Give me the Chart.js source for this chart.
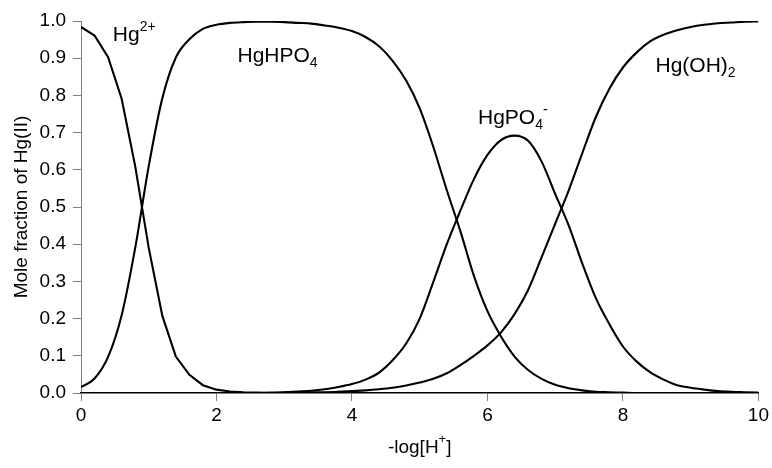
<!DOCTYPE html>
<html>
<head>
<meta charset="utf-8">
<script src="https://cdn.jsdelivr.net/npm/chart.js@4"></script>
<style>
  html, body { margin: 0; padding: 0; background: #fff; }
  canvas { display: block; }
</style>
</head>
<body>
<canvas id="speciation" width="772" height="468"></canvas>
<script>
// -log[H+] values
const pH = [0, 0.2, 0.4, 0.6, 0.8, 1.0, 1.2, 1.4, 1.6, 1.8,
  2.0, 2.2, 2.4, 2.6, 2.8, 3.0, 3.2, 3.4, 3.6, 3.8,
  4.0, 4.2, 4.4, 4.6, 4.8, 5.0, 5.2, 5.4, 5.6, 5.8,
  6.0, 6.2, 6.4, 6.6, 6.8, 7.0, 7.2, 7.4, 7.6, 7.8,
  8.0, 8.2, 8.4, 8.6, 8.8, 9.0, 9.2, 9.4, 9.6, 9.8, 10.0];

// mole fractions
const hg2 = [0.984, 0.961, 0.903, 0.791, 0.61, 0.39, 0.208, 0.098, 0.049, 0.021,
  0.009, 0.004, 0.002, 0.001, 0, 0, 0, 0, 0, 0,
  0, 0, 0, 0, 0, 0, 0, 0, 0, 0,
  0, 0, 0, 0, 0, 0, 0, 0, 0, 0,
  0, 0, 0, 0, 0, 0, 0, 0, 0, 0, 0];
const hgHPO4 = [0.016, 0.039, 0.097, 0.209, 0.39, 0.61, 0.792, 0.902, 0.951, 0.979,
  0.99, 0.995, 0.997, 0.998, 0.998, 0.997, 0.995, 0.993, 0.988, 0.982,
  0.973, 0.957, 0.932, 0.893, 0.84, 0.765, 0.662, 0.545, 0.435, 0.315,
  0.22, 0.152, 0.098, 0.062, 0.038, 0.022, 0.013, 0.007, 0.003, 0.002,
  0.001, 0, 0, 0, 0, 0, 0, 0, 0, 0, 0];
const hgPO4 = [0, 0, 0, 0, 0, 0, 0, 0, 0, 0,
  0, 0, 0, 0, 0.001, 0.002, 0.004, 0.006, 0.01, 0.016,
  0.024, 0.036, 0.055, 0.088, 0.133, 0.2, 0.298, 0.4, 0.49, 0.575,
  0.64, 0.68, 0.692, 0.678, 0.622, 0.535, 0.45, 0.348, 0.255, 0.185,
  0.125, 0.085, 0.056, 0.036, 0.021, 0.014, 0.009, 0.005, 0.003, 0.002, 0.001];
const hgOH2 = [0, 0, 0, 0, 0, 0, 0, 0, 0, 0,
  0, 0, 0, 0, 0, 0.001, 0.001, 0.002, 0.002, 0.003,
  0.005, 0.007, 0.01, 0.014, 0.02, 0.028, 0.038, 0.053, 0.075, 0.1,
  0.128, 0.163, 0.212, 0.277, 0.365, 0.455, 0.545, 0.645, 0.742, 0.818,
  0.875, 0.915, 0.945, 0.963, 0.975, 0.984, 0.99, 0.994, 0.996, 0.998, 0.999];

// species labels: pieces + anchor in data units (left edge, baseline)
const speciesLabels = [
  { at: [0.47, 0.946], parts: [['Hg'], ['2+', 'sup']] },
  { at: [2.31, 0.89], parts: [['HgHPO'], ['4', 'sub']] },
  { at: [5.86, 0.724], parts: [['HgPO'], ['4', 'sub'], ['-', 'sup']] },
  { at: [8.48, 0.863], parts: [['Hg(OH)'], ['2', 'sub']] }
];

const FONT = "'Liberation Sans', Arial, sans-serif";

function toPoints(ys) {
  return pH.map((x, i) => ({ x: x, y: ys[i] }));
}

function drawParts(ctx, parts, x, y, big, small) {
  let cx = x;
  parts.forEach(([t, kind]) => {
    let size = kind ? small : big;
    let dy = kind === 'sub' ? 5 : kind === 'sup' ? -10 : 0;
    ctx.font = size + 'px ' + FONT;
    ctx.fillText(t, cx, y + dy);
    cx += ctx.measureText(t).width;
  });
}

const chemLabels = {
  id: 'chemLabels',
  afterDraw(chart) {
    const { ctx, scales: { x, y }, chartArea } = chart;
    ctx.save();
    ctx.fillStyle = '#000';
    ctx.textBaseline = 'alphabetic';
    ctx.textAlign = 'left';
    speciesLabels.forEach(l => {
      drawParts(ctx, l.parts, x.getPixelForValue(l.at[0]), y.getPixelForValue(l.at[1]), 21, 14);
    });
    // x axis title with superscript
    const title = [['-log[H'], ['+', 'sup'], [']']];
    let w = 0;
    title.forEach(([t, k]) => {
      ctx.font = (k ? 13 : 19) + 'px ' + FONT;
      w += ctx.measureText(t).width;
    });
    drawParts(ctx, title, (chartArea.left + chartArea.right) / 2 - w / 2, 453, 19, 13);
    ctx.restore();
  }
};

const lineStyle = {
  borderColor: '#000',
  borderWidth: 2.1,
  pointRadius: 0,
  fill: false
};

new Chart(document.getElementById('speciation'), {
  type: 'line',
  data: {
    datasets: [
      { label: 'Hg2+', data: toPoints(hg2), ...lineStyle, tension: 0 },
      { label: 'HgHPO4', data: toPoints(hgHPO4), ...lineStyle, cubicInterpolationMode: 'monotone' },
      { label: 'HgPO4-', data: toPoints(hgPO4), ...lineStyle, cubicInterpolationMode: 'monotone' },
      { label: 'Hg(OH)2', data: toPoints(hgOH2), ...lineStyle, cubicInterpolationMode: 'monotone' }
    ]
  },
  options: {
    responsive: false,
    animation: false,
    devicePixelRatio: 1,
    layout: { padding: { top: 21, right: 5, bottom: 0, left: 0 } },
    plugins: {
      legend: { display: false },
      tooltip: { enabled: false }
    },
    scales: {
      x: {
        type: 'linear',
        min: 0,
        max: 10,
        border: { color: '#000', width: 1.5 },
        grid: { drawOnChartArea: false, drawTicks: true, tickLength: 8, color: '#808080' },
        ticks: { stepSize: 2, color: '#000', padding: 3, font: { family: FONT, size: 19 } },
        afterFit(scale) { scale.height = 75; }
      },
      y: {
        min: 0,
        max: 1,
        border: { color: '#808080', width: 1 },
        grid: { drawOnChartArea: false, drawTicks: true, tickLength: 8, color: '#808080' },
        ticks: {
          stepSize: 0.1,
          color: '#000',
          padding: 7,
          font: { family: FONT, size: 19 },
          callback: v => v.toFixed(1)
        },
        title: {
          display: true,
          text: 'Mole fraction of Hg(II)',
          color: '#000',
          padding: { top: 10, bottom: 0 },
          font: { family: FONT, size: 19 }
        },
        afterFit(scale) { scale.width = 81; }
      }
    }
  },
  plugins: [chemLabels]
});
</script>
</body>
</html>
